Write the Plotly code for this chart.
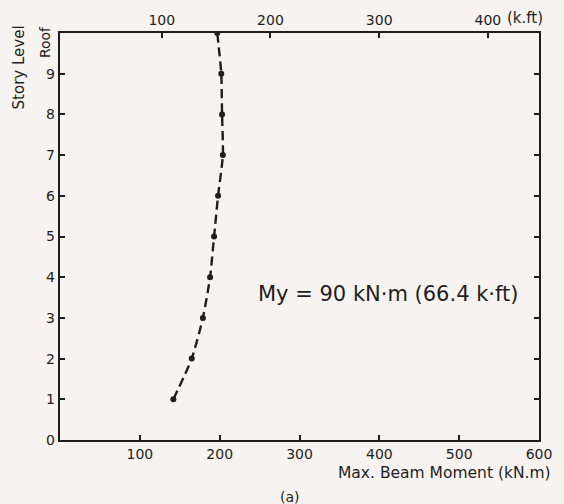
import plotly.graph_objects as go

# Story levels (1..9 numbered floors, 10 = roof) and maximum beam moment, kN.m
story_levels = [1, 2, 3, 4, 5, 6, 7, 8, 9, 10]
max_moment_knm = [142, 165, 179, 188, 193, 198, 204, 203, 202, 197]

x_ticks_knm = [100, 200, 300, 400, 500, 600]
y_ticks = [0, 1, 2, 3, 4, 5, 6, 7, 8, 9, 10]
y_tick_text = ["0", "1", "2", "3", "4", "5", "6", "7", "8", "9", ""]
top_ticks_kft = [100, 200, 300, 400]

FONT = "DejaVu Sans"
INK = "#1e1e1e"
BG = "#f7f3f0"

fig = go.Figure()

fig.add_trace(go.Scatter(
    x=max_moment_knm, y=story_levels,
    mode="lines+markers",
    line=dict(color=INK, width=2.4, dash="9px,5px", shape="spline", smoothing=0.6),
    marker=dict(color=INK, size=6),
    showlegend=False, hoverinfo="skip",
))

# anchor trace so the k.ft axis on top is drawn
fig.add_trace(go.Scatter(
    x=[top_ticks_kft[0]], y=[0], xaxis="x2",
    mode="markers", marker=dict(opacity=0),
    showlegend=False, hoverinfo="skip",
))

tick_style = dict(ticks="inside", ticklen=5, tickwidth=1.5, tickcolor=INK,
                  showline=True, linewidth=2.4, linecolor=INK,
                  showgrid=False, zeroline=False, tickfont=dict(size=14))

fig.update_layout(
    width=564, height=504,
    margin=dict(l=60, r=19, t=32, b=64),
    paper_bgcolor=BG, plot_bgcolor=BG,
    font=dict(family=FONT, color=INK, size=14),
    xaxis=dict(range=[0, 600], tickvals=x_ticks_knm, mirror=True, **tick_style),
    xaxis2=dict(overlaying="x", side="top", anchor="y",
                range=[6.4, 447], tickvals=top_ticks_kft, **tick_style),
    yaxis=dict(range=[0, 10], tickvals=y_ticks, ticktext=y_tick_text,
               mirror="ticks", **tick_style),
    annotations=[
        dict(text="My = 90 kN·m (66.4 k·ft)", xref="x", yref="y",
             x=411, y=3.58, showarrow=False, font=dict(size=21)),
        dict(text="Max. Beam Moment (kN.m)", xref="paper", yref="paper",
             x=1.03, y=-0.08, xanchor="right", yanchor="middle",
             showarrow=False, font=dict(size=15.5)),
        dict(text="(a)", xref="paper", yref="paper",
             x=0.48, y=-0.14, xanchor="center", yanchor="middle",
             showarrow=False, font=dict(size=14)),
        dict(text="(k.ft)", xref="paper", yref="paper",
             x=0.97, y=1.036, xanchor="center", yanchor="middle",
             showarrow=False, font=dict(size=15)),
        dict(text="Roof", xref="paper", yref="paper",
             x=-0.031, y=0.978, xanchor="center", yanchor="middle",
             textangle=-90, showarrow=False, font=dict(size=14)),
        dict(text="Story Level", xref="paper", yref="paper",
             x=-0.086, y=0.915, xanchor="center", yanchor="middle",
             textangle=-90, showarrow=False, font=dict(size=15)),
    ],
)

fig.write_html("out.html")
